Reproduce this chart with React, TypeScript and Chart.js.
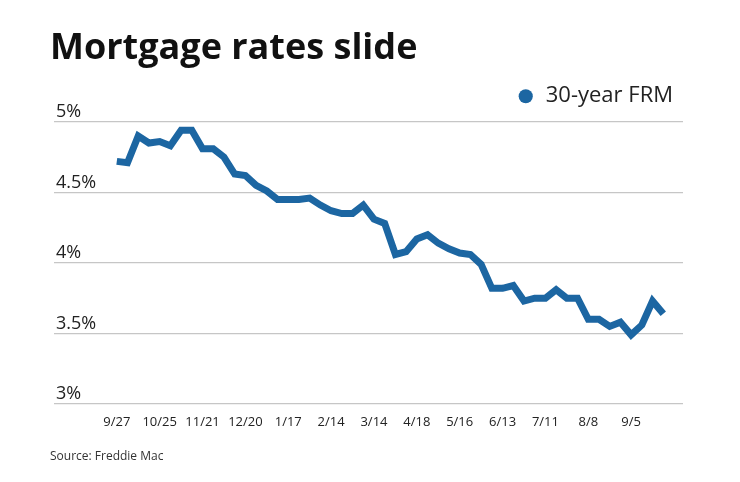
import React, { useEffect, useRef } from 'react';
import { Chart, registerables } from 'chart.js';

Chart.register(...registerables);

const weeks = [
  '9/27', '10/4', '10/11', '10/18', '10/25', '11/1', '11/8', '11/15', '11/21', '11/29',
  '12/6', '12/13', '12/20', '12/27', '1/3', '1/10', '1/17', '1/24', '1/31', '2/7',
  '2/14', '2/21', '2/28', '3/7', '3/14', '3/21', '3/28', '4/4', '4/18', '4/25',
  '5/2', '5/9', '5/16', '5/23', '5/30', '6/6', '6/13', '6/20', '6/27', '7/3',
  '7/11', '7/18', '7/25', '8/1', '8/8', '8/15', '8/22', '8/29', '9/5', '9/12',
  '9/19', '9/26',
];

const rates = [
  4.72, 4.71, 4.9, 4.85, 4.86, 4.83, 4.94, 4.94, 4.81, 4.81,
  4.75, 4.63, 4.62, 4.55, 4.51, 4.45, 4.45, 4.45, 4.46, 4.41,
  4.37, 4.35, 4.35, 4.41, 4.31, 4.28, 4.06, 4.08, 4.17, 4.2,
  4.14, 4.1, 4.07, 4.06, 3.99, 3.82, 3.82, 3.84, 3.73, 3.75,
  3.75, 3.81, 3.75, 3.75, 3.6, 3.6, 3.55, 3.58, 3.49, 3.56,
  3.73, 3.64,
];

const xTickLabels = ['9/27', '10/25', '11/21', '12/20', '1/17', '2/14', '3/14', '4/18', '5/16', '6/13', '7/11', '8/8', '9/5'];
const yTickValues = [3, 3.5, 4, 4.5, 5];

const seriesName = '30-year FRM';
const titleText = 'Mortgage rates slide';
const sourceText = 'Source: Freddie Mac';

const BLUE = '#1c66a2';
const FONT = '"Open Sans", "Noto Sans", sans-serif';

export default function App() {
  const ref = useRef<HTMLCanvasElement>(null);

  useEffect(() => {
    const chart = new Chart(ref.current as HTMLCanvasElement, {
      type: 'line',
      data: {
        datasets: [
          {
            label: seriesName,
            data: rates.map((y, i) => ({ x: i, y })),
            borderColor: BLUE,
            backgroundColor: BLUE,
            borderWidth: 7,
            pointRadius: 0,
            pointStyle: 'circle',
            tension: 0,
            borderJoinStyle: 'miter',
            borderCapStyle: 'butt',
          },
        ],
      },
      options: {
        responsive: false,
        animation: false,
        layout: { padding: { left: 50, right: 57, top: 0, bottom: 0 } },
        plugins: {
          title: {
            display: true,
            text: titleText,
            align: 'start',
            color: '#111',
            font: { family: FONT, size: 36, weight: 'bold' },
            padding: { top: 27, bottom: 5 },
          },
          legend: {
            position: 'top',
            align: 'end',
            labels: {
              usePointStyle: true,
              boxWidth: 18,
              boxHeight: 10,
              color: '#222',
              font: { family: FONT, size: 22 },
              padding: 10,
              generateLabels: (c: any) =>
                Chart.defaults.plugins.legend.labels
                  .generateLabels(c)
                  .map((item: any) => ({ ...item, lineWidth: 0, strokeStyle: 'rgba(0,0,0,0)' })),
            },
          },
          subtitle: {
            display: true,
            position: 'bottom',
            align: 'start',
            text: sourceText,
            color: '#333',
            font: { family: FONT, size: 12 },
            padding: { top: 10, bottom: 18 },
          },
          tooltip: { enabled: false },
        },
        scales: {
          x: {
            type: 'linear',
            min: -5.86,
            max: 52.84,
            grid: { display: false, drawTicks: false },
            border: { display: false },
            afterBuildTicks: (s: any) => {
              s.ticks = xTickLabels.map((l) => ({ value: weeks.indexOf(l) }));
            },
            ticks: {
              callback: (v: any) => weeks[v as number],
              color: '#222',
              font: { family: FONT, size: 13 },
              padding: 10,
              maxRotation: 0,
              autoSkip: false,
            },
          },
          y: {
            min: 3,
            max: 5.033,
            afterBuildTicks: (s: any) => {
              s.ticks = yTickValues.map((v) => ({ value: v }));
            },
            grid: { color: '#c6c6c6', lineWidth: 1.3, drawTicks: false },
            border: { display: false },
            ticks: {
              mirror: true,
              padding: 2,
              labelOffset: -10,
              callback: (v: any) => v + '%',
              color: '#222',
              font: { family: FONT, size: 18 },
            },
          },
        },
      },
    });
    return () => chart.destroy();
  }, []);

  return (
    <div style={{ position: 'fixed', left: 0, top: 0, width: 740, height: 482, background: '#fff' }}>
      <canvas ref={ref} width={740} height={482} style={{ width: 740, height: 482, display: 'block' }} />
    </div>
  );
}
